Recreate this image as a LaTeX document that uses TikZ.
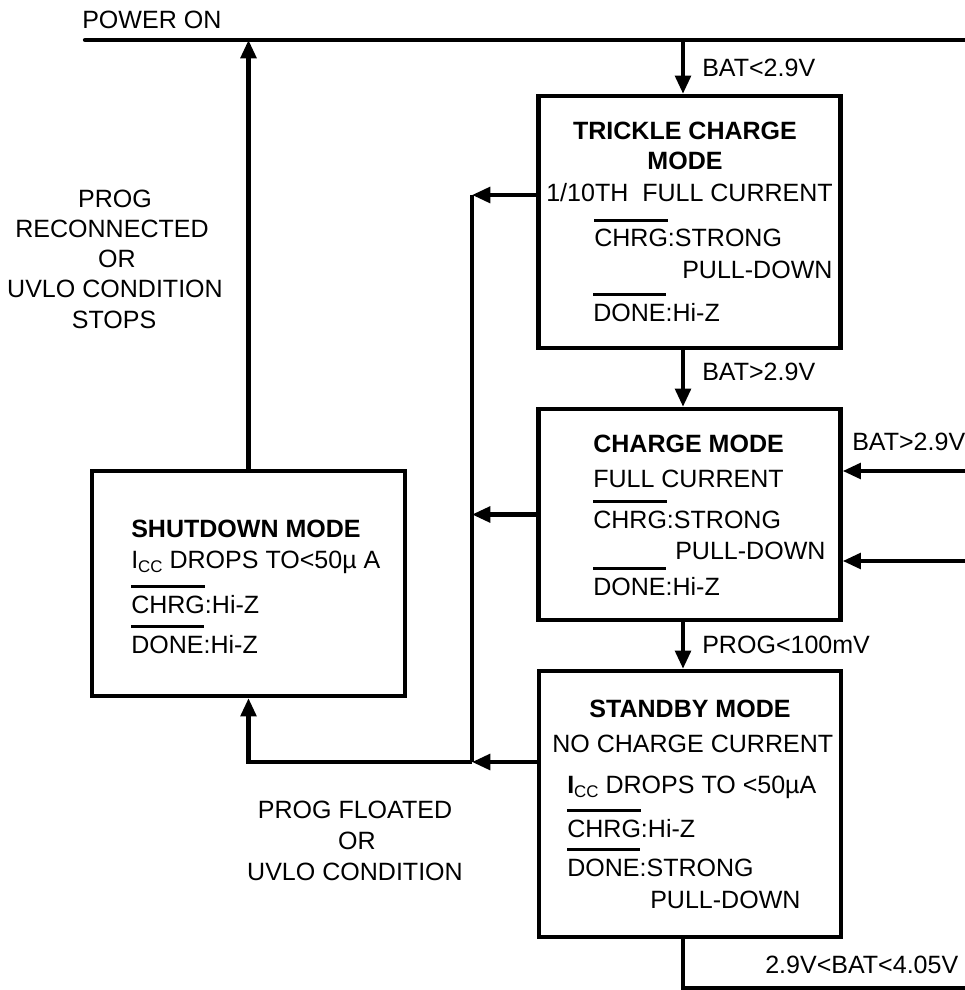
\documentclass[tikz,border=0pt]{standalone}
\usepackage{fontspec}
\setmainfont{Liberation Sans}
\usetikzlibrary{arrows.meta}
\newcommand{\barsig}[1]{\setbox0\hbox{#1}\rlap{\rule[1em]{\wd0}{1.8pt}}\box0}
\newcommand{\ccsub}{\raisebox{-3pt}{\fontsize{12}{12}\selectfont CC}}
\newcommand{\fs}{\fontsize{17.8}{22}\selectfont}
\tikzset{
  modebox/.style={draw, line width=3pt, minimum width=7.55cm, inner sep=0pt},
  txt/.style={anchor=base west, inner sep=0pt},
  ctxt/.style={anchor=base, inner sep=0pt},
  wire/.style={line width=3pt},
  flow/.style={line width=3pt, -{Triangle[length=13pt,width=11pt]}},
}
\begin{document}
\begin{tikzpicture}[x=0.025cm, y=-0.025cm, font=\fs]
\useasboundingbox (0,0) rectangle (964,990);
\node[modebox, minimum height=6.3cm] (trickle) at (689.5,222) {};
\node[modebox, minimum height=5.275cm] (charge) at (689.5,514.5) {};
\node[modebox, minimum height=6.65cm] (standby) at (690,804) {};
\node[modebox, minimum width=7.825cm, minimum height=5.625cm] (shutdown) at (248.5,583.5) {};
\coordinate (pwrL) at (85,40);
\coordinate (pwrR) at (975,40);
\coordinate (spine) at (683,40);
\coordinate (busT) at (472,195);
\coordinate (busB) at (472,762);
\coordinate (batR1) at (975,471);
\coordinate (batR2) at (975,561);
\coordinate (endR) at (975,988);
\draw[wire, line cap=round] (pwrL) -- (pwrR);
\draw[flow] (shutdown.north) -- (shutdown.north |- pwrL);
\draw[flow] (spine) -- (spine |- trickle.north);
\draw[flow] (spine |- trickle.south) -- (spine |- charge.north);
\draw[flow] (spine |- charge.south) -- (spine |- standby.north);
\draw[wire] (spine |- standby.south) -- (spine |- endR) -- (endR);
\draw[flow] (batR1) -- (batR1 -| charge.east);
\draw[flow] (batR2) -- (batR2 -| charge.east);
\draw[flow] (busT -| trickle.west) -- (busT);
\draw[flow] (charge.west) -- (charge.west -| busT);
\draw[flow] (busB -| standby.west) -- (busB);
\draw[wire] (busT) -- (busB);
\draw[flow] (busB) -- (busB -| shutdown.south) -- (shutdown.south);
\node[txt] (pwrlbl) at (82,29) {POWER ON};
\node[txt] (lblA) at (702,77) {BAT<2.9V};
\node[txt] (lblB) at (702,380) {BAT>2.9V};
\node[txt] (lblC) at (702,653) {PROG<100mV};
\node[txt] (lblD) at (852,450) {BAT>2.9V};
\node[txt] (lblE) at (765,973) {2.9V<BAT<4.05V};
\node[ctxt] (up1) at (115,208) {PROG};
\node[ctxt] (up2) at (112,238) {RECONNECTED};
\node[ctxt] (up3) at (117,268) {OR};
\node[ctxt] (up4) at (115,298) {UVLO CONDITION};
\node[ctxt] (up5) at (114,328) {STOPS};
\node[ctxt] (dn1) at (355,818) {PROG FLOATED};
\node[ctxt] (dn2) at (357,849) {OR};
\node[ctxt] (dn3) at (355,880) {UVLO CONDITION};
\node[ctxt] (tr1) at (685,140) {\textbf{TRICKLE CHARGE}};
\node[ctxt] (tr2) at (685,170) {\textbf{MODE}};
\node[txt] (tr3) at (546,202) {1/10TH\ \ FULL CURRENT};
\node[txt] (tr4) at (594,247) {\barsig{CHRG}:STRONG};
\node[txt] (tr5) at (682,278) {PULL-DOWN};
\node[txt] (tr6) at (593,321) {\barsig{DONE}:Hi-Z};
\node[txt] (ch1) at (593,452) {\textbf{CHARGE MODE}};
\node[txt] (ch2) at (593,487) {FULL CURRENT};
\node[txt] (ch3) at (593,528) {\barsig{CHRG}:STRONG};
\node[txt] (ch4) at (675,559) {PULL-DOWN};
\node[txt] (ch5) at (593,595) {\barsig{DONE}:Hi-Z};
\node[ctxt] (sb1) at (690,717) {\textbf{STANDBY MODE}};
\node[txt] (sb2) at (552,752) {NO CHARGE CURRENT};
\node[txt] (sb3) at (567,793) {\textbf{I}\ccsub{} DROPS TO <50µA};
\node[txt] (sb4) at (567,837) {\barsig{CHRG}:Hi-Z};
\node[txt] (sb5) at (567,876) {\barsig{DONE}:STRONG};
\node[txt] (sb6) at (650,908) {PULL-DOWN};
\node[txt] (sd1) at (131,537) {\textbf{SHUTDOWN MODE}};
\node[txt] (sd2) at (131,568) {I\ccsub{} DROPS TO<50µ A};
\node[txt] (sd3) at (131,613) {\barsig{CHRG}:Hi-Z};
\node[txt] (sd4) at (131,653) {\barsig{DONE}:Hi-Z};
\end{tikzpicture}
\end{document}
